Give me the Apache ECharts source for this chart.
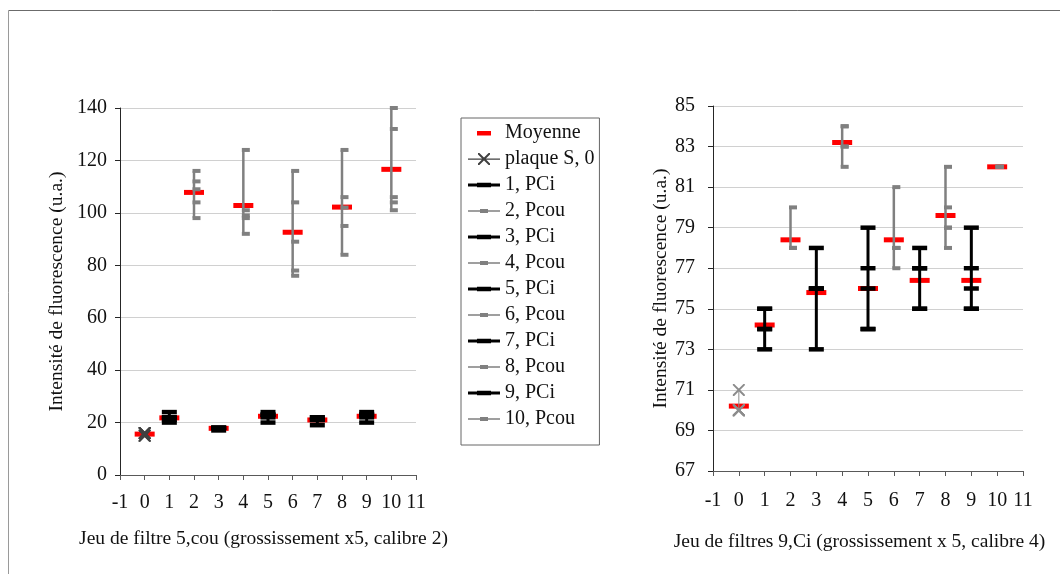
<!DOCTYPE html>
<html><head><meta charset="utf-8">
<script src="https://cdn.jsdelivr.net/npm/echarts@6/dist/echarts.min.js"></script>
<style>html,body{margin:0;padding:0;background:#fff}#c{width:1060px;height:574px}</style>
</head><body><div id="c"></div>
<script>
// ---------- data ----------
const seriesNames = ['plaque S, 0','1, PCi','2, Pcou','3, PCi','4, Pcou','5, PCi','6, Pcou','7, PCi','8, Pcou','9, PCi','10, Pcou'];
const positions = [0,1,2,3,4,5,6,7,8,9,10];
const xTicks = [-1,0,1,2,3,4,5,6,7,8,9,10,11];
const leftYTicks = [0,20,40,60,80,100,120,140];
const rightYTicks = [67,69,71,73,75,77,79,81,83,85];
const xTitleLeft = 'Jeu de filtre 5,cou (grossissement x5, calibre 2)';
const xTitleRight = 'Jeu de filtres 9,Ci (grossissement x 5, calibre 4)';
const yTitle = 'Intensité de fluorescence (u.a.)';

// left chart: filter set 5,cou
const leftMeans = [15.6, 21.8, 107.8, 17.8, 102.8, 22.4, 92.6, 21.0, 102.2, 22.4, 116.6];
const leftPlaque = [16, 15, 16, 15, 16];
const leftP1 = [24, 22, 22, 21, 20];
const leftP2 = [116, 112, 109, 104, 98];
const leftP3 = [18, 18, 17, 18, 18];
const leftP4 = [124, 101, 99, 98, 92];
const leftP5 = [24, 23, 23, 22, 20];
const leftP6 = [116, 104, 89, 78, 76];
const leftP7 = [22, 22, 21, 21, 19];
const leftP8 = [124, 106, 102, 95, 84];
const leftP9 = [24, 23, 23, 22, 20];
const leftP10 = [140, 132, 106, 104, 101];

// right chart: filter set 9,Ci
const rightMeans = [70.2, 74.2, 78.4, 75.8, 83.2, 76.0, 78.4, 76.4, 79.6, 76.4, 82.0];
const rightPlaque = [71, 70, 70, 70, 70];
const rightP1 = [75, 74, 74, 73, 75];
const rightP2 = [80, 78, 78, 78, 78];
const rightP3 = [78, 76, 76, 76, 73];
const rightP4 = [84, 84, 83, 83, 82];
const rightP5 = [79, 77, 76, 74, 74];
const rightP6 = [81, 78, 78, 78, 77];
const rightP7 = [78, 77, 77, 75, 75];
const rightP8 = [82, 80, 79, 79, 78];
const rightP9 = [79, 77, 76, 75, 75];
const rightP10 = [82, 82, 82, 82, 82];

const leftGroups = [leftPlaque, leftP1, leftP2, leftP3, leftP4, leftP5, leftP6, leftP7, leftP8, leftP9, leftP10];
const rightGroups = [rightPlaque, rightP1, rightP2, rightP3, rightP4, rightP5, rightP6, rightP7, rightP8, rightP9, rightP10];

// ---------- styles ----------
const FONT = '"Liberation Serif", "DejaVu Serif", serif';
const TXT = '#111';
const FS = 20, FS_T = 19.5;
const BLACK = '#000000', GRAY = '#808080', RED = '#ff0000';
const X_PATH = 'path://M0,0L1.4,0L12,10.6L12,12L10.6,12L0,1.4Z M12,0L12,1.4L1.4,12L0,12L0,10.6L10.6,0Z';
const CORNERS = 'M0,0L0.01,0L0,0.01Z M32,14L31.99,14L32,13.99Z ';
const ICON_MEAN = 'path://' + CORNERS + 'M9,5L23,5L23,9.5L9,9.5Z';
const ICON_BLACK = 'path://' + CORNERS + 'M0,5.6L32,5.6L32,8.4L0,8.4Z M9,4.8L23,4.8L23,9.2L9,9.2Z';
const ICON_GRAY = 'path://' + CORNERS + 'M0,6.2L32,6.2L32,7.8L0,7.8Z M12,5L20,5L20,9L12,9Z';
const ICON_X = 'path://' + CORNERS + 'M0,6.6L32,6.6L32,7.8L0,7.8Z M10,1L11.4,1L22,11.6L22,13L20.6,13L10,2.4Z M22,1L22,2.4L11.4,13L10,13L10,11.6L20.6,1Z';

function buildSeries(idx, means, groups, plaqueColor) {
  const out = [{
    name: 'Moyenne', type: 'scatter', xAxisIndex: idx, yAxisIndex: idx,
    symbol: 'rect', symbolSize: [20, 5], z: 2,
    itemStyle: {color: RED, borderWidth: 0, opacity: 1}, emphasis: {disabled: true},
    data: positions.map((x, i) => [x, means[i]])
  }];
  groups.forEach((vals, k) => {
    const x = positions[k];
    let s;
    if (k === 0) {
      s = {symbol: X_PATH, symbolSize: 12, symbolOffset: [0, 0], color: plaqueColor, width: 1};
    } else if (k % 2 === 1) {
      s = {symbol: 'rect', symbolSize: [15, 4.5], symbolOffset: [0, 0], color: BLACK, width: 3};
    } else {
      s = {symbol: 'rect', symbolSize: [8, 4], symbolOffset: [2.5, 0], color: GRAY, width: 2.5};
    }
    out.push({
      name: seriesNames[k], type: 'line', xAxisIndex: idx, yAxisIndex: idx, z: 3,
      symbol: s.symbol, symbolSize: s.symbolSize, symbolOffset: s.symbolOffset, showSymbol: true,
      lineStyle: {color: s.color, width: s.width},
      itemStyle: {color: s.color, borderWidth: 0, opacity: 1},
      emphasis: {disabled: true}, animation: false,
      data: vals.map(v => [x, v])
    });
  });
  return out;
}

function xAxisCfg(idx, labelMargin, gap, padRight) {
  return {
    gridIndex: idx, type: 'value', min: xTicks[0], max: xTicks[xTicks.length - 1], interval: xTicks[1] - xTicks[0],
    axisLine: {show: true, onZero: false, lineStyle: {color: '#595959', width: 1}},
    axisTick: {show: true, inside: false, length: 5, lineStyle: {color: '#595959'}},
    axisLabel: {margin: labelMargin, fontSize: FS, fontFamily: FONT, color: TXT, showMinLabel: true, showMaxLabel: true, hideOverlap: false},
    splitLine: {show: false},
    name: idx === 0 ? xTitleLeft : xTitleRight, nameLocation: 'middle', nameGap: gap,
    nameTextStyle: {fontSize: FS_T, fontFamily: FONT, color: TXT, padding: [0, padRight, 0, 0]}
  };
}
function yAxisCfg(idx, ticks, margin, gap) {
  return {
    gridIndex: idx, type: 'value', min: ticks[0], max: ticks[ticks.length - 1], interval: ticks[1] - ticks[0],
    axisLine: {show: true, onZero: false, lineStyle: {color: '#262626', width: 1}},
    axisTick: {show: true, inside: false, length: 5, lineStyle: {color: '#262626'}},
    axisLabel: {margin: margin, fontSize: FS, fontFamily: FONT, color: TXT, showMinLabel: true, showMaxLabel: true},
    splitLine: {show: true, lineStyle: {color: '#d0d0d0', width: 1}},
    name: yTitle, nameLocation: 'middle', nameRotate: 90, nameGap: gap,
    nameTextStyle: {fontSize: FS_T, fontFamily: FONT, color: TXT}
  };
}

const legendIcons = [ICON_MEAN, ICON_X].concat(seriesNames.slice(1).map((n, i) => i % 2 === 0 ? ICON_BLACK : ICON_GRAY));

const option = {
  backgroundColor: '#ffffff',
  animation: false,
  grid: [
    {left: 120, top: 108, width: 296, height: 367},
    {left: 713, top: 106, width: 310, height: 365}
  ],
  xAxis: [xAxisCfg(0, 18, 54, 9), xAxisCfg(1, 20, 61, 17)],
  yAxis: [yAxisCfg(0, leftYTicks, 13, 53), yAxisCfg(1, rightYTicks, 18, 41)],
  legend: {
    orient: 'vertical', left: 461, top: 118,
    padding: [5, 5, 16, 7], itemGap: 6, itemWidth: 32, itemHeight: 14,
    borderColor: '#666', borderWidth: 1, selectedMode: false,
    itemStyle: {borderWidth: 0, opacity: 1},
    textStyle: {fontSize: FS, fontFamily: FONT, color: TXT, lineHeight: 20},
    data: ['Moyenne'].concat(seriesNames).map((n, i) => ({name: n, icon: legendIcons[i]}))
  },
  graphic: [
    {type: 'line', shape: {x1: 8.5, y1: 10.5, x2: 1060, y2: 10.5}, style: {stroke: '#6b6b6b', lineWidth: 1}, silent: true},
    {type: 'line', shape: {x1: 8.5, y1: 10.5, x2: 8.5, y2: 574}, style: {stroke: '#9a9a9a', lineWidth: 1}, silent: true}
  ],
  series: buildSeries(0, leftMeans, leftGroups, '#404040').concat(buildSeries(1, rightMeans, rightGroups, '#8c8c8c'))
};

const chart = echarts.init(document.getElementById('c'), null, {renderer: 'canvas'});
chart.setOption(option);
</script>
</body></html>
